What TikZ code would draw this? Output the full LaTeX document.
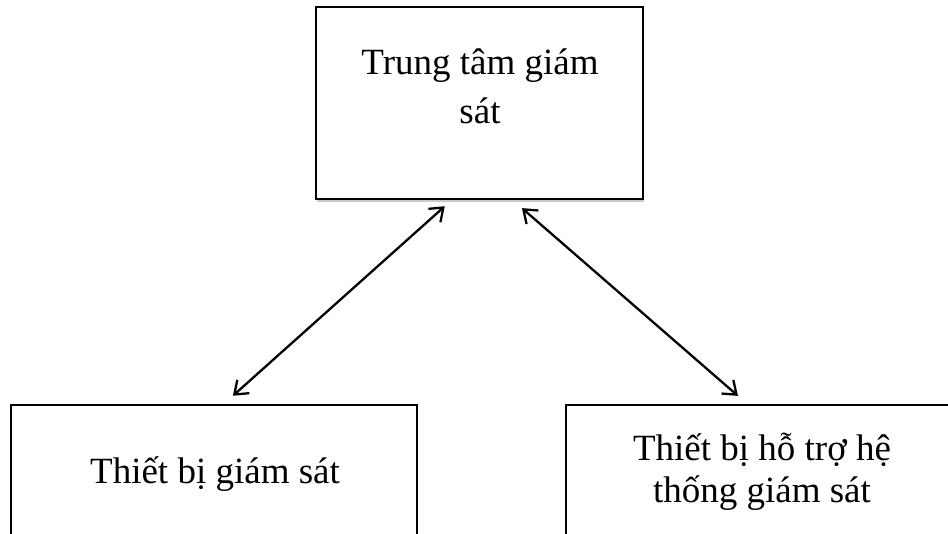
\documentclass[tikz,border=0pt]{standalone}
\usepackage{fontspec}
\setmainfont{Liberation Serif}
\usetikzlibrary{arrows.meta,shadows}
\begin{document}
\begin{tikzpicture}[x=1pt,y=-1pt,
  box/.style={draw=black, line width=2.5pt, fill=white,
    drop shadow={shadow xshift=1pt, shadow yshift=-2.5pt, opacity=0.35, fill=black!60}},
  lbl/.style={font=\fontsize{37}{49}\selectfont, align=center, inner sep=0pt},
  lblb/.style={font=\fontsize{37}{42}\selectfont, align=center, inner sep=0pt},
  arr/.style={{Straight Barb[length=12pt,width=18pt]}-{Straight Barb[length=12pt,width=18pt]}, line width=2.3pt}]
\useasboundingbox (0,0) rectangle (948,533);
\clip (0,0) rectangle (948,533);
% boxes
\node[box, minimum width=327pt, minimum height=192pt] (top) at (479.5,103) {};
\node[box, minimum width=406pt, minimum height=190pt] (lb) at (214,500) {};
\node[box, minimum width=390pt, minimum height=190pt] (rb) at (761,500) {};
% texts (anchor base = baseline of the last line)
\node[lbl, anchor=base] (ttop) at (480,123) {Trung tâm giám\\sát};
\node[lbl, anchor=base] (tlb) at (215,483) {Thiết bị giám sát};
\node[lblb, anchor=base] (trb) at (762,502) {Thiết bị hỗ trợ hệ\\thống giám sát};
% connectors
\draw[arr, shorten <=9pt, shorten >=12pt] ([xshift=-28pt]top.south) -- ([xshift=10pt]lb.north);
\draw[arr, shorten <=12pt, shorten >=12pt] ([xshift=33.4pt]top.south) -- ([xshift=-14pt]rb.north);
\end{tikzpicture}
\end{document}
